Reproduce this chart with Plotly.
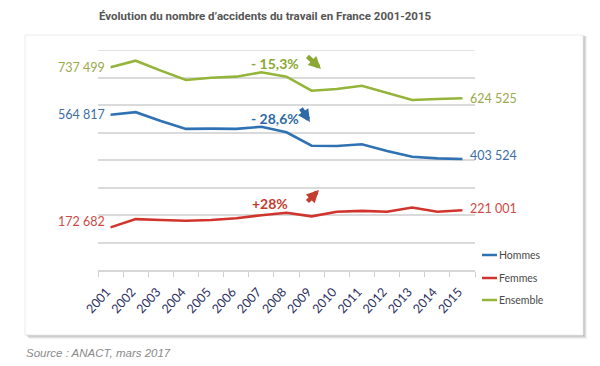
import plotly.graph_objects as go

years = [str(y) for y in range(2001, 2016)]
hommes = [564817, 574000, 542000, 513000, 514000, 513000, 521000, 501000, 452000, 451000, 457000, 433000, 412000, 406000, 403524]
femmes = [155000, 185000, 182000, 179000, 182000, 188000, 199000, 208000, 195000, 212000, 215000, 212000, 227000, 212000, 217000]
ensemble = [737499, 761000, 725000, 691000, 699000, 703000, 719000, 703000, 652000, 658000, 670000, 645000, 618000, 622000, 624525]

series_names = ["Hommes", "Femmes", "Ensemble"]
series_values = [hommes, femmes, ensemble]
line_colors = ["#2f72b4", "#d0342c", "#95b43a"]
label_colors = ["#3b6ea5", "#cf4a45", "#9aa94a"]
start_labels = ["564 817", "172 682", "737 499"]
end_labels = ["403 524", "221 001", "624 525"]
label_yshift_start = [0, 6, 0]
label_yshift_end = [4, 2, 0]

pct_texts = ["- 28,6%", "+28%", "- 15,3%"]
pct_colors = ["#2f6aa6", "#c43b30", "#8aa832"]

y_max = 800000

W, H = 600, 366
L, R, T, B = 98, 125, 50, 96
PW, PH = W - L - R, H - T - B


def px(x):
    return (x - L) / PW


def py(y):
    return (H - B - y) / PH


fig = go.Figure()
for name, vals, col in zip(series_names, series_values, line_colors):
    fig.add_trace(go.Scatter(x=years, y=vals, mode="lines", name=name,
                             line=dict(color=col, width=2.6), showlegend=False))

shapes = []
# card shadow and card
for off, op in [(4, 0.10), (3, 0.14), (2, 0.18), (1, 0.22)]:
    shapes.append(dict(type="rect", xref="paper", yref="paper", layer="below",
                       x0=px(25 + off), x1=px(583 + off), y0=py(335 + off), y1=py(35 + off * 0.3),
                       fillcolor=f"rgba(120,120,120,{op})", line=dict(width=0)))
shapes.append(dict(type="rect", xref="paper", yref="paper", layer="below",
                   x0=px(25), x1=px(583), y0=py(335), y1=py(35),
                   fillcolor="white", line=dict(color="#ececec", width=1)))
# top gridline (at the top of the range)
shapes.append(dict(type="line", xref="paper", yref="y", layer="below", x0=0, x1=1,
                   y0=y_max, y1=y_max, line=dict(color="#dadada", width=1.5)))

annotations = []
first_idx, last_idx = 0, len(years) - 1
for i, (vals, lc) in enumerate(zip(series_values, label_colors)):
    annotations.append(dict(x=first_idx, y=vals[0], xref="x", yref="y", text=start_labels[i],
                            showarrow=False, xanchor="right", yanchor="middle", xshift=-4,
                            yshift=label_yshift_start[i], font=dict(size=12.5, color=lc, family="Lato")))
    annotations.append(dict(x=last_idx, y=vals[-1], xref="x", yref="y", text=end_labels[i],
                            showarrow=False, xanchor="left", yanchor="middle", xshift=6,
                            yshift=label_yshift_end[i], font=dict(size=12.5, color=lc, family="Lato")))

# percentage annotations
pct_pos = [(275, 118), (270, 203), (275, 63)]
for (x, y), t, c in zip(pct_pos, pct_texts, pct_colors):
    annotations.append(dict(x=px(x), y=py(y), xref="paper", yref="paper", text=f"<b>{t}</b>",
                            xanchor="center", yanchor="middle",
                            showarrow=False, font=dict(size=14, color=c, family="Lato")))

# arrows (tail -> head)
arrows = [((300, 107), (310, 122), pct_colors[0]),
          ((306, 203), (319, 190), pct_colors[1]),
          ((306, 55), (321, 69), pct_colors[2])]
for (tx, ty), (hx, hy), c in arrows:
    annotations.append(dict(x=px(hx), y=py(hy), xref="paper", yref="paper", ax=tx - hx, ay=ty - hy,
                            axref="pixel", ayref="pixel", text="", showarrow=True,
                            xanchor="center", yanchor="middle",
                            arrowhead=2, arrowsize=0.55, arrowwidth=4.5, arrowcolor=c))

# manual legend
leg_y = [255, 278, 300]
for name, col, y in zip(series_names, line_colors, leg_y):
    shapes.append(dict(type="line", xref="paper", yref="paper", x0=px(482), x1=px(497),
                       y0=py(y), y1=py(y), line=dict(color=col, width=2.5)))
    annotations.append(dict(x=px(497), y=py(y), xref="paper", yref="paper", text=name,
                            showarrow=False, xanchor="left", yanchor="middle",
                            font=dict(size=10.5, color="#4a4a4a", family="Lato")))

# title and source
annotations.append(dict(x=px(265), y=py(16), xref="paper", yref="paper", xanchor="center", yanchor="middle",
                        text="<b>Évolution du nombre d’accidents du travail en France 2001-2015</b>",
                        showarrow=False, font=dict(size=11.5, color="#555555", family="Roboto")))
annotations.append(dict(x=px(24), y=py(353), xref="paper", yref="paper", xanchor="left", yanchor="middle",
                        text="<i>Source : ANACT, mars 2017</i>", showarrow=False,
                        font=dict(size=11.5, color="#8a8a8a", family="Liberation Sans")))

fig.update_layout(
    width=W, height=H, margin=dict(l=L, r=R, t=T, b=B),
    paper_bgcolor="white", plot_bgcolor="rgba(0,0,0,0)",
    shapes=shapes, annotations=annotations,
    xaxis=dict(type="category", tickson="boundaries", ticks="outside", ticklen=5, tickwidth=1.2,
               tickcolor="#cfcfcf", showline=True, linecolor="#d6d6d6", linewidth=1.5,
               showgrid=False, tickangle=-48, ticklabelstandoff=8, ticklabelshift=-4,
               tickfont=dict(size=12.5, color="#2b2f5e", family="Lato"),
               range=[-0.5, 14.5], automargin=False),
    yaxis=dict(range=[0, y_max], dtick=100000, showticklabels=False, gridcolor="#dadada",
               gridwidth=1.5, zeroline=False, showline=False, automargin=False),
)

fig.write_html("out.html", config={"displayModeBar": False},
               post_script="document.body.style.margin='0';")
